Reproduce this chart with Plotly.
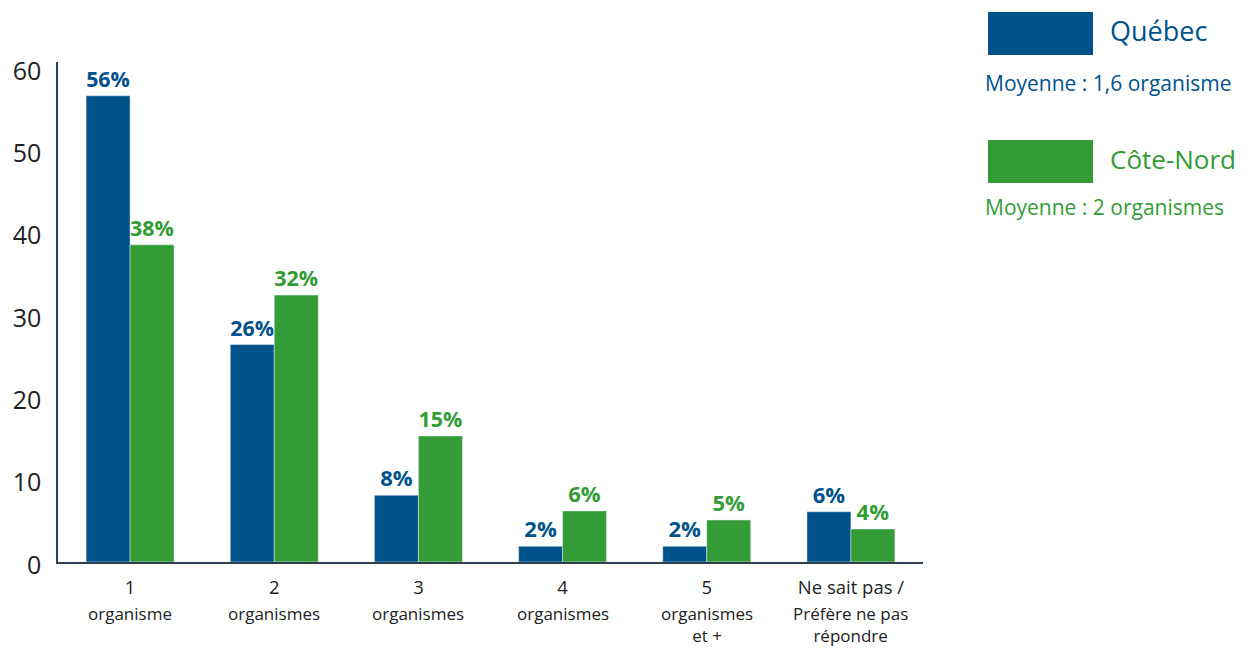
import plotly.graph_objects as go

categories = ["1", "2", "3", "4", "5", "Ne sait pas /"]
subtitles = ["organisme", "organismes", "organismes", "organismes", "organismes<br>et +", "Préfère ne pas<br>répondre"]
quebec = [56.6, 26.4, 8.1, 1.9, 1.9, 6.1]
cote_nord = [38.5, 32.4, 15.3, 6.2, 5.1, 4.0]
quebec_labels = ["56%", "26%", "8%", "2%", "2%", "6%"]
cote_labels = ["38%", "32%", "15%", "6%", "5%", "4%"]

BLUE = "#00528A"
GREEN = "#339C36"
FONT = "Open Sans"
DARK = "#222222"

fig = go.Figure()
fig.add_trace(go.Bar(x=list(range(6)), y=quebec, marker_color=BLUE, text=quebec_labels,
                     textposition="outside", textfont=dict(color=BLUE, size=22, family=FONT, weight="bold"),
                     cliponaxis=False, name="Québec"))
fig.add_trace(go.Bar(x=list(range(6)), y=cote_nord, marker_color=GREEN, text=cote_labels,
                     textposition="outside", textfont=dict(color=GREEN, size=22, family=FONT, weight="bold"),
                     cliponaxis=False, name="Côte-Nord"))

OFF = 8  # page body margin
W, H = 1248 - OFF, 648 - OFF
L, R, T, B = 58 - OFF, 1248 - 923, 62 - OFF, 648 - 562
pw, ph = W - L - R, H - T - B

def px(x):
    return (x - OFF - L) / pw

def py(y):
    return (T + ph - (y - OFF)) / ph

fig.update_layout(
    width=W, height=H,
    margin=dict(l=L, r=R, t=T, b=B),
    plot_bgcolor="white", paper_bgcolor="white",
    barmode="group", bargap=0.39, bargroupgap=0,
    showlegend=False,
    font=dict(family=FONT, color=DARK),
    xaxis=dict(tickmode="array", tickvals=list(range(6)), ticktext=categories,
               tickfont=dict(size=18.5, color=DARK), showline=True, linecolor="#2E3F4F",
               linewidth=1.5, ticks="", range=[-0.5, 5.5], showgrid=False,
               ticklabelstandoff=8, automargin=False),
    yaxis=dict(range=[0, 60.7], tickvals=[0, 10, 20, 30, 40, 50, 60], showgrid=False,
               showline=True, linecolor="#2E3F4F", linewidth=1.5, ticks="",
               tickfont=dict(size=25, color=DARK), ticklabelstandoff=10, ticklabelshift=3,
               zeroline=False, automargin=False),
)

for i, s in enumerate(subtitles):
    fig.add_annotation(xref="x", yref="paper", x=i, y=py(601), text=s, showarrow=False,
                       xanchor="center", yanchor="top", align="center", borderpad=0,
                       font=dict(color=DARK, size=17, family=FONT))

shapes = []
for (y0, y1, col) in [(12, 55, BLUE), (140, 183, GREEN)]:
    shapes.append(dict(type="rect", xref="paper", yref="paper", x0=px(988), x1=px(1093),
                       y0=py(y1), y1=py(y0), fillcolor=col, line=dict(width=0)))
fig.update_layout(shapes=shapes)

ann = [
    (1108, 31, "Québec", BLUE, 27),
    (983, 83, "Moyenne : 1,6 organisme", BLUE, 21),
    (1108, 159, "Côte-Nord", GREEN, 26),
    (983, 207, "Moyenne : 2 organismes", GREEN, 21),
]
for x, y, t, c, s in ann:
    fig.add_annotation(xref="paper", yref="paper", x=px(x), y=py(y), text=t, showarrow=False,
                       xanchor="left", yanchor="middle", font=dict(color=c, size=s, family=FONT))

fig.write_html("out.html")
